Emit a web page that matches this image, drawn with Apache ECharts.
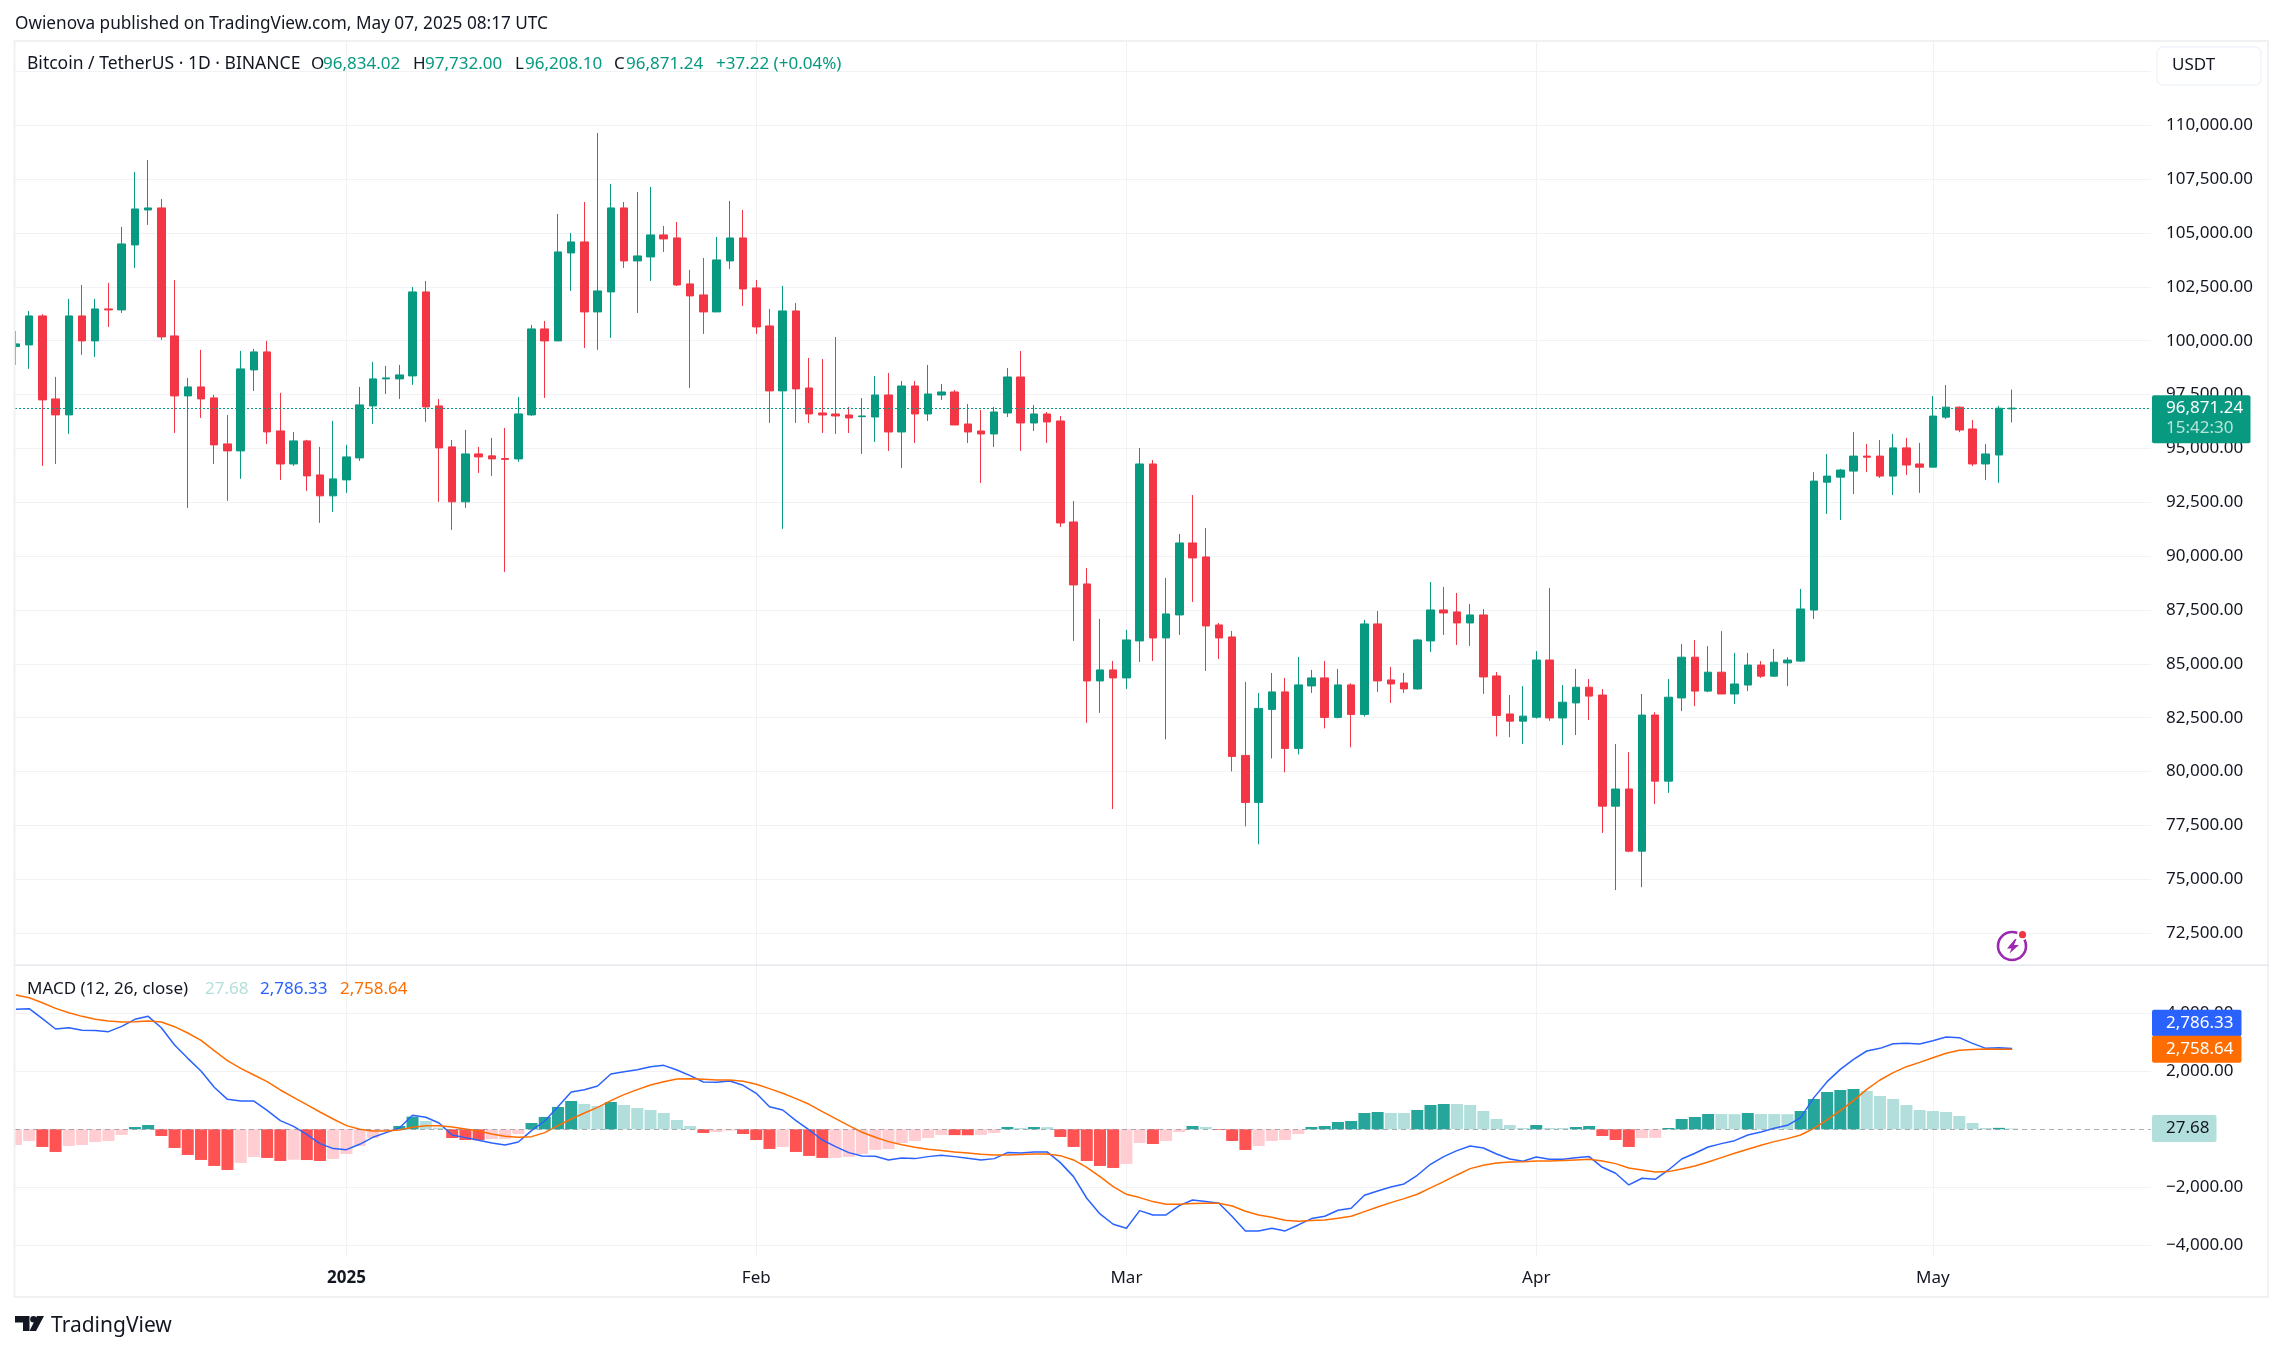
<!DOCTYPE html>
<html>
<head>
<meta charset="utf-8">
<style>html,body{margin:0;padding:0;background:#fff}#c{width:2283px;height:1351px}</style>
<script src="https://cdn.jsdelivr.net/npm/echarts@6/dist/echarts.min.js"></script>
</head>
<body>
<div id="c"></div>
<script>
const firstDay = '2024-12-07';
const opens = [
99728,99805,101151,97299,96557,101151,99991,101476,101430,104447,
106071,106164,100223,97439,97856,97346,95211,94886,98645,99481,
95814,94280,95350,93770,92800,93540,94560,96974,98228,98228,
98367,102265,96974,95072,92520,94746,94655,94530,94514,96557,
100548,99991,104075,104586,101337,102265,106164,103704,103889,104911,
104771,102637,102126,101337,103704,104771,102451,100687,97671,101383,
97806,96646,96600,96553,96476,96460,97481,95764,97899,96600,
97481,97621,96135,95811,95672,96646,98317,96182,96600,96275,
91587,88710,84208,84719,84348,86065,94279,86204,87271,90613,
89963,86807,86250,80751,78570,82886,83698,81076,83976,84348,
82515,84023,82654,86854,84255,84115,83837,86065,87503,87411,
86900,87271,84440,82674,82342,82525,85178,82490,83188,83917,
83553,78396,79192,76307,82624,79557,83420,85310,83735,84614,
83602,84017,84945,84431,85045,85128,87499,93434,93667,93948,
94645,94645,93716,95026,94280,94131,96452,96916,95905,94280,
94695,96834.02];
const closes = [
99852,101151,97253,96557,101151,99991,101476,101430,104493,106117,
106164,100177,97439,97856,97299,95165,94886,98692,99481,95768,
94280,95350,93725,92800,93586,94607,97021,98228,98274,98413,
102265,96928,95025,92520,94746,94607,94515,94490,96603,100548,
99991,104122,104586,101337,102312,106164,103704,103936,104911,104725,
102590,102080,101337,103750,104771,102404,100641,97671,101383,97764,
96600,96553,96507,96414,96507,97481,95764,97899,96600,97528,
97621,96089,95764,95672,96693,98317,96182,96600,96229,91541,
88664,84208,84719,84348,86111,94279,86204,87318,90613,89917,
86761,86204,80705,78570,82933,83698,81076,84023,84348,82515,
84023,82654,86854,84208,84069,83837,86111,87503,87364,86900,
87271,84394,82608,82342,82574,85178,82490,83221,83917,83503,
78396,79192,76307,82624,79557,83453,85310,83735,84614,83602,
84067,84945,84431,85078,85178,87548,93484,93716,93998,94645,
94595,93716,95026,94230,94131,96502,96916,95855,94280,94744,
96866,96871.24];
const highs = [
100455,101383,101229,98320,101940,102590,101940,102683,105282,107835,
108391,106581,102822,98274,99574,97485,96557,99527,99620,99991,
97578,95768,95400,95072,96278,95165,97856,99017,98831,98878,
102497,102776,97299,95396,95860,95072,95489,95953,97392,100734,
100919,105885,105004,106442,109644,107278,106442,106906,107138,105328,
105514,103286,103843,104818,106489,106071,102822,101476,102544,101755,
99199,99152,100173,96925,97342,98363,98503,98131,98131,98874,
97992,97714,97064,96785,96925,98735,99524,97017,96693,96507,
92562,89453,87086,85136,86575,95022,94465,88989,91031,92841,
91309,86900,86529,84162,83652,84579,84348,85322,84719,85136,
84765,84100,87039,87457,84858,84579,86157,88803,88571,88292,
87782,87550,84626,83553,83967,85592,88527,84017,84763,84299,
83835,81281,80900,83602,82757,84299,85924,86106,85824,86521,
85509,85509,85128,85692,85310,88477,93899,94744,94048,95756,
95208,95391,95673,95490,95258,97430,97944,96949,96319,95208,
96966,97732];
const lows = [
98878,98692,94190,94280,95675,99342,99249,100641,101290,103379,
105375,100037,95721,92240,96418,94280,92565,93590,97671,95211,
93540,94190,93030,91545,92055,92936,94420,96139,97531,97299,
97949,96233,92520,91220,92240,93865,93725,89270,94375,96511,
97346,99991,102312,99666,99574,100130,103379,101290,102776,104122,
102544,97809,100316,101337,103333,101615,100316,96185,91266,96185,
96182,95718,95672,95718,94743,95300,94883,94094,95254,96275,
97250,96089,95254,93397,95068,96460,94883,95811,95254,91355,
86065,82259,82723,78260,83837,85090,85136,81494,86343,87875,
84672,85229,80009,77456,76621,80612,79962,80798,83652,82005,
82470,81123,82560,83698,83187,83652,83800,85554,86343,85879,
85833,83605,81633,81596,81281,82458,82359,81232,81696,82392,
77153,74500,76257,74633,78496,79010,82807,83039,83685,83602,
83138,83735,84349,84398,83967,85100,87084,91959,91677,92887,
93899,93633,92838,93766,92937,94131,96369,95756,94180,93534,
93401,96208.10];
const histogram = [
-540,-402,-609,-781,-575,-540,-437,-402,-195,80,
149,-230,-643,-885,-1057,-1264,-1402,-1160,-954,-988,
-1092,-1050,-1060,-1092,-1023,-850,-575,-299,-46,115,
437,287,57,-299,-368,-375,-333,-330,-161,218,
425,770,977,873,804,942,839,735,666,563,
322,115,-126,-92,-46,-161,-368,-678,-609,-781,
-919,-988,-985,-954,-850,-712,-678,-471,-402,-299,
-195,-200,-205,-195,-126,80,46,80,75,-264,
-609,-1092,-1264,-1333,-1195,-471,-506,-402,-92,115,
80,-23,-402,-712,-575,-402,-368,-161,80,115,
253,287,563,597,563,560,666,839,873,870,
839,632,356,149,46,149,46,44,80,115,
-230,-368,-609,-299,-295,46,356,425,529,525,
522,563,529,525,522,632,1046,1287,1356,1390,
1321,1149,1046,839,666,632,597,460,218,46,
50,27.68];
const macdLine = [
4136,4159,3815,3458,3504,3413,3410,3367,3550,3792,
3895,3504,2907,2447,2011,1448,1034,977,975,655,
299,103,-172,-494,-666,-701,-517,-276,-115,46,
483,414,218,-195,-287,-379,-471,-540,-437,-46,
287,781,1287,1367,1494,1907,1988,2057,2160,2206,
2045,1850,1632,1620,1666,1517,1241,781,666,299,
-23,-368,-597,-804,-919,-931,-1057,-988,-1011,-942,
-896,-942,-1000,-1057,-1011,-804,-816,-781,-781,-1149,
-1632,-2378,-2918,-3275,-3413,-2804,-2953,-2953,-2631,-2436,
-2493,-2551,-3010,-3504,-3504,-3413,-3504,-3298,-3079,-2999,
-2792,-2723,-2275,-2126,-1988,-1884,-1586,-1206,-942,-735,
-575,-643,-850,-1023,-1103,-954,-1034,-1034,-977,-942,
-1310,-1517,-1919,-1689,-1724,-1402,-1023,-827,-609,-494,
-391,-195,-92,34,138,402,1092,1643,2068,2413,
2700,2792,2953,2964,2941,3056,3183,3160,2964,2792,
2815,2786.33];
const signalLine = [
4630,4539,4366,4171,4022,3895,3792,3734,3700,3711,
3734,3700,3539,3321,3068,2712,2367,2103,1873,1643,
1356,1103,850,597,356,126,0,-57,-57,-23,
69,126,126,80,11,-57,-161,-241,-276,-253,
-115,126,356,563,758,988,1195,1367,1528,1643,
1735,1746,1723,1700,1700,1655,1551,1402,1241,1057,
862,609,368,126,-103,-276,-425,-529,-620,-689,
-735,-781,-816,-862,-885,-885,-873,-850,-850,-908,
-1057,-1310,-1632,-1976,-2241,-2355,-2493,-2585,-2585,-2562,
-2551,-2551,-2643,-2827,-2953,-3033,-3137,-3171,-3148,-3125,
-3068,-2999,-2838,-2677,-2528,-2390,-2241,-2022,-1804,-1574,
-1356,-1241,-1160,-1126,-1115,-1092,-1092,-1080,-1057,-1034,
-1092,-1183,-1333,-1402,-1471,-1459,-1367,-1264,-1126,-977,
-827,-689,-552,-425,-322,-195,34,322,643,988,
1379,1700,1953,2160,2309,2470,2620,2723,2755,2765,
2762,2758.64];
const timeTickDates = ['2025-01-01','2025-02-01','2025-03-01','2025-04-01','2025-05-01'];
const timeTickLabels = ['2025','Feb','Mar','Apr','May'];
const priceGridTicks = [72500,75000,77500,80000,82500,85000,87500,90000,92500,95000,97500,100000,102500,105000,107500,110000,112500];
const priceLabelTicks = [72500,75000,77500,80000,82500,85000,87500,90000,92500,95000,97500,100000,102500,105000,107500,110000];
const macdTicks = [-4000,-2000,2000,4000];
const lastPrice = 96871.24, lastMacd = 2786.33, lastSignal = 2758.64, lastHist = 27.68;

const FONT = '"Noto Sans", sans-serif';
const GREEN='#089981', RED='#F23645', INK='#131722', GRID='#f0f2f5';
const DAY = 86400000;
const ts = s => Date.parse(s+'T00:00:00Z');
const start = ts(firstDay);
const dates = opens.map((_,i)=>start+i*DAY);
const xMin = start-0.07*DAY, xMax = start+161.5*DAY;
const tickTs = timeTickDates.map(ts);
const money = v => (v<0?'\u2212':'')+Math.abs(v).toLocaleString('en-US',{minimumFractionDigits:2,maximumFractionDigits:2});

const candleData = dates.map((t,i)=>[t,opens[i],closes[i],lows[i],highs[i]]);
const histData = dates.map((t,i)=>{
  const v=histogram[i], rising = i===0 || v>histogram[i-1];
  const color = v>=0 ? (rising?'#26A69A':'#B2DFDB') : (rising?'#FFCDD2':'#FF5252');
  return {value:[t,v], itemStyle:{color}};
});

const xBase = {
  type:'value', min:xMin, max:xMax,
  axisLine:{show:false}, axisTick:{show:false, customValues:tickTs},
  splitLine:{show:true, lineStyle:{color:GRID, width:1}},
  axisPointer:{show:false}
};
const chart = echarts.init(document.getElementById('c'),null,{renderer:'canvas'});
chart.setOption({
  animation:false, backgroundColor:'#fff',
  grid:[
    {left:15, right:132, top:41, height:924},
    {left:15, right:132, top:965, height:291}
  ],
  xAxis:[
    Object.assign({},xBase,{gridIndex:0, axisLabel:{show:false}}),
    Object.assign({},xBase,{gridIndex:1, axisLabel:{
      show:true, customValues:tickTs, margin:14, hideOverlap:false,
      color:INK, fontFamily:FONT, fontSize:17,
      formatter:(v)=>{const k=timeTickLabels[tickTs.indexOf(v)]; return k==='2025'?'{b|2025}':k;},
      rich:{b:{fontWeight:'bold',fontFamily:FONT,fontSize:17,color:INK}}
    }})
  ],
  yAxis:[
    {type:'value', gridIndex:0, position:'right', min:71022, max:113913, scale:true,
     axisLine:{show:false}, axisTick:{show:false, customValues:priceGridTicks},
     splitLine:{show:true, lineStyle:{color:GRID,width:1}},
     axisLabel:{customValues:priceLabelTicks, margin:15, color:INK, fontFamily:FONT, fontSize:17, formatter:v=>money(v), padding:[0,0,4,0]}},
    {type:'value', gridIndex:1, position:'right', min:-4369, max:5666,
     axisLine:{show:false}, axisTick:{show:false, customValues:macdTicks},
     splitLine:{show:true, lineStyle:{color:GRID,width:1}},
     axisLabel:{customValues:macdTicks, margin:15, color:INK, fontFamily:FONT, fontSize:17, formatter:v=>money(v), padding:[0,0,4,0]}}
  ],
  series:[
    {type:'candlestick', name:'BTCUSDT', xAxisIndex:0, yAxisIndex:0, data:candleData, encode:{x:0,y:[1,2,3,4]},
     barWidth:8, silent:true, clip:true,
     itemStyle:{color:GREEN,color0:RED,borderColor:GREEN,borderColor0:RED,borderWidth:1},
     markLine:{silent:true,symbol:['none','none'],label:{show:false},animation:false,
       lineStyle:{color:GREEN,type:[2,2],width:1},data:[{yAxis:lastPrice}]}},
    {type:'bar', name:'Histogram', xAxisIndex:1, yAxisIndex:1, data:histData, barWidth:12, silent:true, z:2, clip:true,
     markLine:{silent:true,symbol:['none','none'],label:{show:false},animation:false,
       lineStyle:{color:'rgba(120,123,134,0.6)',type:[5,4],width:1},data:[{yAxis:0}]}},
    {type:'line', name:'MACD', xAxisIndex:1, yAxisIndex:1, data:dates.map((t,i)=>[t,macdLine[i]]), showSymbol:false, silent:true, z:3,
     lineStyle:{color:'#2962FF',width:1.5}},
    {type:'line', name:'Signal', xAxisIndex:1, yAxisIndex:1, data:dates.map((t,i)=>[t,signalLine[i]]), showSymbol:false, silent:true, z:4,
     lineStyle:{color:'#FF6D00',width:1.5}}
  ]
});

const T=(x,y,text,fill,extra)=>({type:'text',x,y,z:50,silent:true,style:Object.assign({text,fill,font:'17px '+FONT,textVerticalAlign:'middle',textAlign:'left'},extra||{})});
const R=(x,y,w,h,fill,r)=>({type:'rect',z:40,silent:true,shape:{x,y,width:w,height:h,r:r||0},style:{fill}});
const P=(points,fill)=>({type:'polygon',z:41,silent:true,shape:{points},style:{fill}});
const pyMain = v=>chart.convertToPixel({yAxisIndex:0},v);
const pyMacd = v=>chart.convertToPixel({yAxisIndex:1},v);
const yPrice=pyMain(lastPrice), ySig=pyMacd(lastSignal), yHist=pyMacd(lastHist);
const gfx=[
  {type:'rect',z:30,silent:true,shape:{x:0,y:41,width:14.5,height:1256},style:{fill:'#fff'}},
  {type:'rect',z:35,silent:true,shape:{x:14.5,y:41,width:2253.5,height:1256},style:{fill:'none',stroke:'#f0f1f3',lineWidth:2}},
  {type:'line',z:35,silent:true,shape:{x1:15,y1:965.3,x2:2268,y2:965.3},style:{stroke:'#e6e8f0',lineWidth:1.5}},
  T(15,24,'Owienova published on TradingView.com, May 07, 2025 08:17 UTC',INK,{font:'17.2px '+FONT}),
  T(27,64,'Bitcoin / TetherUS \u00b7 1D \u00b7 BINANCE',INK,{font:'17.5px '+FONT}),
  T(311,64,'O',INK), T(323,64,'96,834.02',GREEN),
  T(413,64,'H',INK), T(425,64,'97,732.00',GREEN),
  T(515,64,'L',INK), T(525,64,'96,208.10',GREEN),
  T(614,64,'C',INK), T(626,64,'96,871.24',GREEN),
  T(716,64,'+37.22 (+0.04%)',GREEN),
  {type:'rect',z:40,silent:true,shape:{x:2157,y:47,width:104,height:38,r:6},style:{fill:'#fff',stroke:'#f0f3fa',lineWidth:1.5}},
  T(2172,65,'USDT',INK),
  T(27,989,'MACD (12, 26, close)',INK),
  T(205,989,'27.68','#B2DFDB'),
  T(260,989,'2,786.33','#2962FF'),
  T(340,989,'2,758.64','#FF6D00'),
  R(2152,yPrice-13,98.5,48,GREEN,2),
  T(2166,yPrice,money(lastPrice),'#fff'),
  T(2166,yPrice+20.5,'15:42:30','#b8e3d9'),
  R(2152,ySig-13.5-26,89.5,26.5,'#2962FF',2),
  T(2166,ySig-26,money(lastMacd),'#fff'),
  R(2152,ySig-13.5,89.5,27,'#FF6D00',2),
  T(2166,ySig,money(lastSignal),'#fff'),
  R(2152,yHist-13.5,64.5,27,'#B2DFDB',2),
  T(2166,yHist,'27.68',INK),
  {type:'circle',z:40,silent:true,shape:{cx:2012,cy:946,r:14},style:{fill:'none',stroke:'#9C27B0',lineWidth:2.6}},
  {type:'circle',z:41,silent:true,shape:{cx:2022.5,cy:934.7,r:5.5},style:{fill:'#fff'}},
  {type:'circle',z:42,silent:true,shape:{cx:2022.5,cy:934.7,r:3.6},style:{fill:'#F23645'}},
  P([[2015,939],[2007,948.5],[2011.5,948.5],[2009.5,953.5],[2019,945],[2014,945],[2016.5,939]],'#9C27B0'),
  P([[15,1316],[29.5,1316],[29.5,1331],[23,1331],[23,1322.5],[15,1322.5]],'#131722'),
  P([[37,1316],[44,1316],[36,1331],[29.5,1331]],'#131722'),
  {type:'circle',z:41,silent:true,shape:{cx:33.5,cy:1319.3,r:3.3},style:{fill:'#131722'}},
  T(51,1326,'TradingView','#131722',{font:'21px '+FONT})
];
chart.setOption({graphic:{elements:gfx}});
</script>
</body>
</html>
